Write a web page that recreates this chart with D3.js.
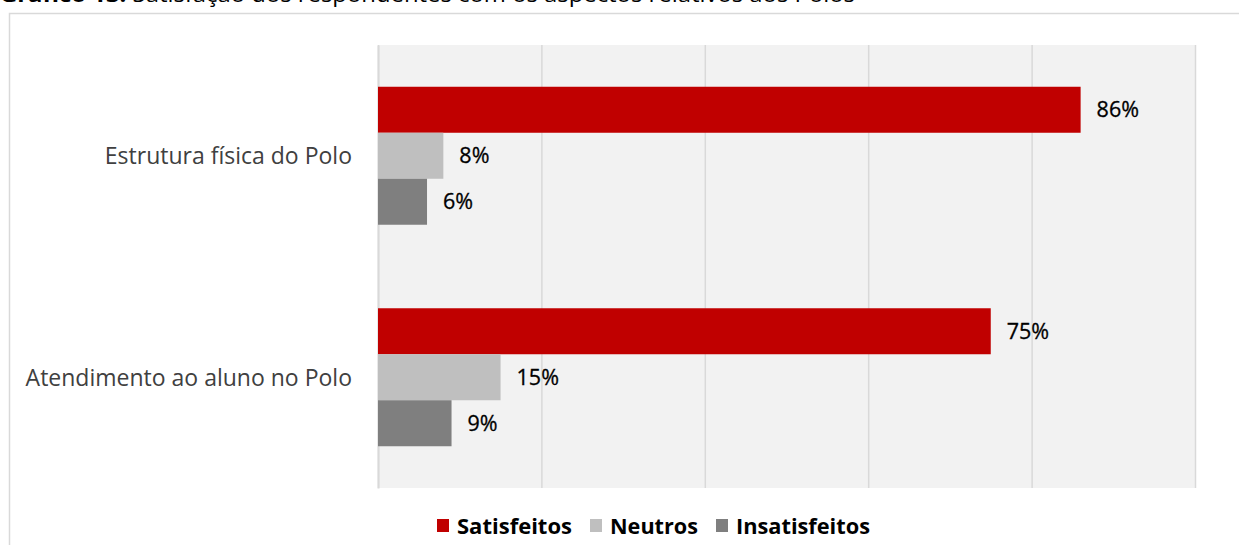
<!DOCTYPE html>
<html>
<head>
<meta charset="utf-8">
<script src="https://cdn.jsdelivr.net/npm/d3@7"></script>
<style>
  html, body { margin: 0; padding: 0; background: #fff; }
  svg { display: block; }
</style>
</head>
<body>
<svg id="chart" width="1239" height="545"></svg>
<script>
// Data
const categories = ["Estrutura física do Polo", "Atendimento ao aluno no Polo"];
const seriesNames = ["Satisfeitos", "Neutros", "Insatisfeitos"];
const satisfeitos = [0.86, 0.75];
const neutros = [0.08, 0.15];
const insatisfeitos = [0.06, 0.09];
const xTicks = [0, 0.2, 0.4, 0.6, 0.8, 1.0];
const titleBold = "Gráfico 13:";
const titleRest = " Satisfação dos respondentes com os aspectos relativos aos Polos";

const seriesValues = [satisfeitos, neutros, insatisfeitos];
const colors = ["#c00000", "#bfbfbf", "#7f7f7f"];
const font = "'Open Sans', 'Noto Sans', sans-serif";

const svg = d3.select("#chart");

// Caption (partly above the frame)
const title = svg.append("text")
  .attr("x", 0).attr("y", 2)
  .attr("font-family", font).attr("font-size", 22).attr("fill", "#000")
  .attr("textLength", 855).attr("lengthAdjust", "spacingAndGlyphs");
title.append("tspan").attr("font-weight", "bold").text(titleBold);
title.append("tspan").text(titleRest);

// Outer frame
svg.append("path")
  .attr("d", "M9.5,545 V13.5 H1239")
  .attr("fill", "none").attr("stroke", "#d9d9d9").attr("stroke-width", 1.5);

const plot = { left: 378, right: 1195, top: 45, bottom: 488 };

const x = d3.scaleLinear().domain([0, 1]).range([plot.left, plot.right]);
const y = d3.scaleBand().domain(categories)
  .range([plot.top, plot.bottom]).paddingInner(0.377).paddingOuter(0.1885);
const ySub = d3.scaleBand().domain(seriesNames).range([0, y.bandwidth()]).padding(0);

// Plot background
svg.append("rect")
  .attr("x", plot.left).attr("y", plot.top)
  .attr("width", plot.right - plot.left).attr("height", plot.bottom - plot.top)
  .attr("fill", "#f2f2f2");

// Vertical gridlines
const xAxis = d3.axisBottom(x).tickValues(xTicks).tickSize(-(plot.bottom - plot.top)).tickFormat("");
const gx = svg.append("g").attr("transform", `translate(0,${plot.bottom})`).call(xAxis);
gx.select(".domain").remove();
gx.selectAll(".tick line").attr("stroke", "#d9d9d9").attr("stroke-width", 1.5);

// Category axis
const yAxis = d3.axisLeft(y).tickSize(0).tickPadding(26);
const gy = svg.append("g").attr("transform", `translate(${plot.left},0)`).call(yAxis);
gy.select(".domain").attr("stroke", "#d9d9d9").attr("stroke-width", 2);
gy.selectAll(".tick text")
  .attr("font-family", font).attr("font-size", 23).attr("fill", "#404040")
  .attr("dy", "0.36em");

// Bars
const rows = [];
categories.forEach((c, i) => {
  seriesNames.forEach((s, j) => rows.push({ cat: c, series: s, value: seriesValues[j][i], color: colors[j] }));
});

svg.append("g").selectAll("rect").data(rows).join("rect")
  .attr("x", x(0))
  .attr("y", d => y(d.cat) + ySub(d.series))
  .attr("width", d => x(d.value) - x(0))
  .attr("height", ySub.bandwidth())
  .attr("fill", d => d.color);

// Value labels
svg.append("g").selectAll("text").data(rows).join("text")
  .attr("x", d => x(d.value) + 16)
  .attr("y", d => y(d.cat) + ySub(d.series) + ySub.bandwidth() / 2)
  .attr("dy", "0.36em")
  .attr("font-family", font).attr("font-size", 21.5).attr("fill", "#000")
  .attr("stroke", "#000").attr("stroke-width", 0.3)
  .text(d => Math.round(d.value * 100) + "%");

// Legend
const legendItems = [
  { name: seriesNames[0], color: colors[0], x: 437, w: 115 },
  { name: seriesNames[1], color: colors[1], x: 590, w: 88 },
  { name: seriesNames[2], color: colors[2], x: 716, w: 134 }
];
const lg = svg.append("g");
legendItems.forEach(it => {
  lg.append("rect").attr("x", it.x).attr("y", 519).attr("width", 12).attr("height", 13).attr("fill", it.color);
  lg.append("text").attr("x", it.x + 20).attr("y", 534)
    .attr("font-family", font).attr("font-size", 22).attr("font-weight", "bold").attr("fill", "#000")
    .attr("textLength", it.w).attr("lengthAdjust", "spacingAndGlyphs")
    .text(it.name);
});
</script>
</body>
</html>
